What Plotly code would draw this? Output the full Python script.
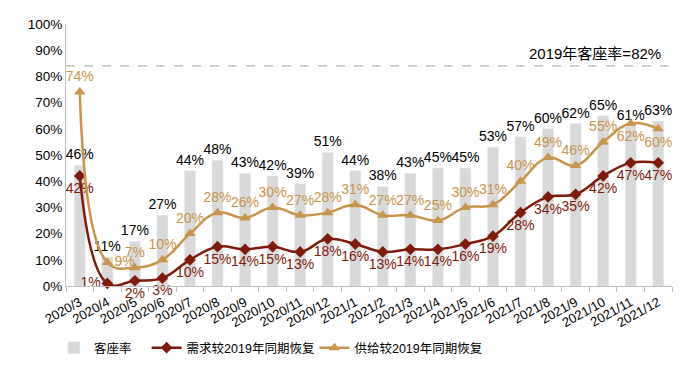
import plotly.graph_objects as go

months = ["2020/3","2020/4","2020/5","2020/6","2020/7","2020/8","2020/9","2020/10","2020/11","2020/12",
          "2021/1","2021/2","2021/3","2021/4","2021/5","2021/6","2021/7","2021/8","2021/9","2021/10","2021/11","2021/12"]
load_factor = [46, 11, 17, 27, 44, 48, 43, 42, 39, 51, 44, 38, 43, 45, 45, 53, 57, 60, 62, 65, 61, 63]
demand = [42, 1, 2, 3, 10, 15, 14, 15, 13, 18, 16, 13, 14, 14, 16, 19, 28, 34, 35, 42, 47, 47]
supply = [74, 9, 7, 10, 20, 28, 26, 30, 27, 28, 31, 27, 27, 25, 30, 31, 40, 49, 46, 55, 62, 60]
ref_level = 84
ref_label = "2019年客座率=82%"
yticks = [0, 10, 20, 30, 40, 50, 60, 70, 80, 90, 100]

FONT = "Liberation Sans, Arial, Noto Sans CJK SC, sans-serif"
GREY = "#d9d9d9"
DARK = "#7d1c0c"
TAN = "#c8954d"

sup_pos = ["top center"] * len(months)
sup_pos[1] = "middle right"
sup_pos[20] = "bottom center"
sup_pos[21] = "bottom center"
dem_pos = ["bottom center"] * len(months)
dem_pos[1] = "middle left"

fig = go.Figure()
fig.add_trace(go.Bar(
    x=months, y=load_factor, name="客座率", marker_color=GREY, width=0.4,
    text=[f"{v}%" for v in load_factor], textposition="outside", constraintext="none",
    textfont=dict(color="#000000", size=14, family=FONT), cliponaxis=False,
    legend="legend",
))
fig.add_trace(go.Scatter(
    x=months, y=demand, name="需求较2019年同期恢复", mode="lines+markers+text",
    line=dict(color=DARK, width=2.5, shape="spline", smoothing=1.2),
    marker=dict(symbol="diamond", size=9, color=DARK),
    text=[f"{v}%" for v in demand], textposition=dem_pos,
    textfont=dict(color=DARK, size=14, family=FONT), cliponaxis=False,
    legend="legend2",
))
fig.add_trace(go.Scatter(
    x=months, y=supply, name="供给较2019年同期恢复", mode="lines+markers+text",
    line=dict(color=TAN, width=2.5, shape="spline", smoothing=1.2),
    marker=dict(symbol="triangle-up", size=10, color=TAN),
    text=[f"{v}%" for v in supply], textposition=sup_pos,
    textfont=dict(color=TAN, size=14, family=FONT), cliponaxis=False,
    legend="legend3",
))

fig.add_shape(type="line", xref="paper", yref="y", x0=0, x1=1, y0=ref_level, y1=ref_level,
              line=dict(color="#a6a6a6", width=1, dash="dash"))
fig.add_annotation(xref="paper", yref="y", x=0.985, y=ref_level, text=ref_label,
                   showarrow=False, xanchor="right", yanchor="bottom", yshift=2,
                   font=dict(size=15, color="#000000", family=FONT))

leg_common = dict(orientation="h", y=-0.237, yanchor="middle", xanchor="left",
                  font=dict(size=12.5, family=FONT), itemwidth=30, bgcolor="rgba(0,0,0,0)")
fig.update_layout(
    width=700, height=371,
    margin=dict(l=66, r=28, t=24, b=85, autoexpand=False),
    paper_bgcolor="white", plot_bgcolor="white",
    font=dict(family=FONT, size=13, color="#000000"),
    showlegend=True,
    legend=dict(x=-0.02, **leg_common),
    legend2=dict(x=0.133, **leg_common),
    legend3=dict(x=0.41, **leg_common),
)
fig.update_xaxes(
    type="category", range=[-0.5, len(months) - 0.5],
    showline=True, linecolor="#bfbfbf", linewidth=1,
    ticks="outside", ticklen=5, tickcolor="#bfbfbf", tickson="boundaries",
    tickangle=-29, tickfont=dict(size=13, family=FONT), showgrid=False, automargin=False,
    ticklabelstandoff=3,
)
fig.update_yaxes(
    range=[0, 100], tickvals=yticks, ticktext=[f"{v}%" for v in yticks],
    showline=True, linecolor="#bfbfbf", linewidth=1, showgrid=False, zeroline=False,
    tickfont=dict(size=13.5, family=FONT), ticks="", automargin=False,
)

fig.write_html("out.html", config={"displayModeBar": False},
               post_script="document.body.style.margin='0';")
